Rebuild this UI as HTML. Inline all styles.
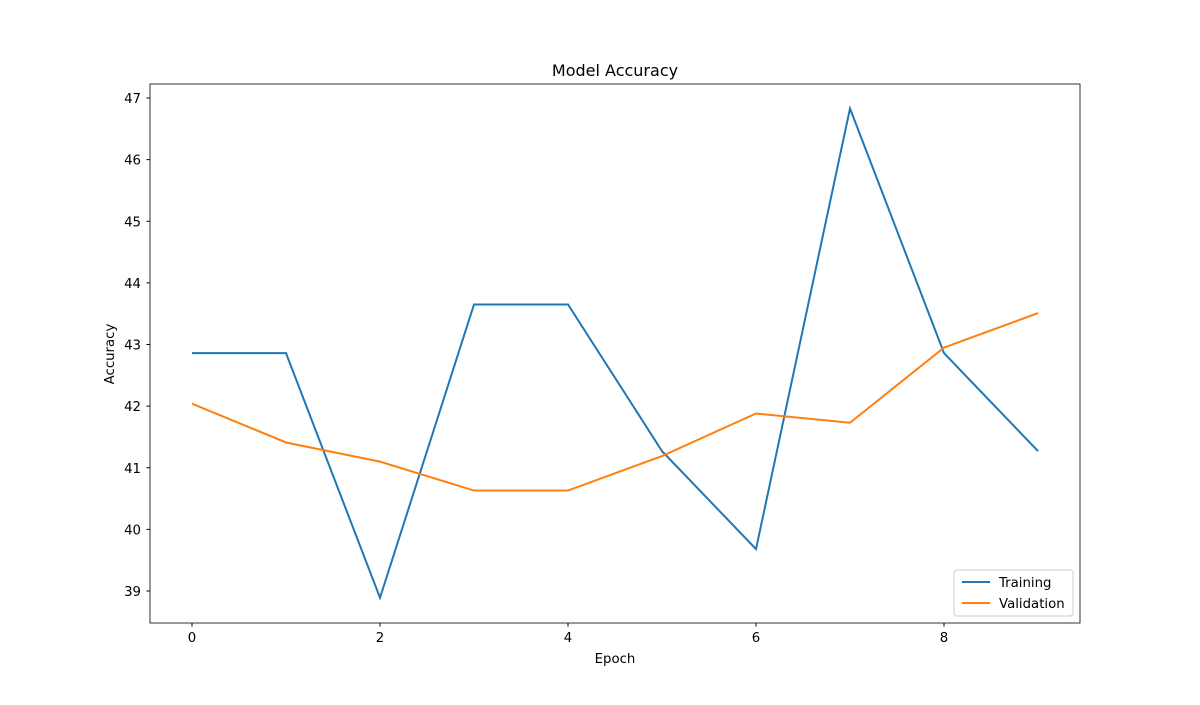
<!DOCTYPE html>
<html><head><meta charset="utf-8"><style>
body{margin:0;background:#fff;}
svg text{font-family:"DejaVu Sans","Liberation Sans",sans-serif;fill:#000;}
</style></head><body>
<svg id="chart" width="1200" height="700" xmlns="http://www.w3.org/2000/svg">
<rect width="1200" height="700" fill="#fff"/>
<text x="615" y="76" font-size="16" text-anchor="middle">Model Accuracy</text>
<g id="xticks"></g><g id="yticks"></g>
<g id="lines"></g>
<rect x="150" y="84" width="930" height="539" fill="none" stroke="#000" stroke-width="0.8"/>
<text x="615" y="663" font-size="13.3" text-anchor="middle">Epoch</text>
<text transform="translate(114,354) rotate(-90)" font-size="13.3" text-anchor="middle">Accuracy</text>
<g>
<rect x="954" y="570" width="119" height="46" rx="3" fill="#fff" fill-opacity="0.8" stroke="#ccc"/>
<line x1="962" y1="582" x2="990" y2="582" stroke="#1f77b4" stroke-width="2"/>
<text x="999" y="587" font-size="13.3">Training</text>
<line x1="962" y1="603" x2="990" y2="603" stroke="#ff7f0e" stroke-width="2"/>
<text x="999" y="608" font-size="13.3">Validation</text>
</g>
</svg>
<script>
const epochs=[0,1,2,3,4,5,6,7,8,9];
const training=[42.86,42.86,38.89,43.65,43.65,41.27,39.68,46.83,42.86,41.27];
const validation=[42.04,41.41,41.10,40.63,40.63,41.19,41.88,41.73,42.95,43.51];
const xTicks=[0,2,4,6,8];
const yTicks=[39,40,41,42,43,44,45,46,47];
const NS="http://www.w3.org/2000/svg";
function xs(v){return 192+v*94;}
function ys(v){return 591-(v-39)*61.625;}
const xg=document.getElementById('xticks'),yg=document.getElementById('yticks'),lg=document.getElementById('lines');
xTicks.forEach(t=>{
 const l=document.createElementNS(NS,'line');
 l.setAttribute('x1',xs(t));l.setAttribute('x2',xs(t));l.setAttribute('y1',623);l.setAttribute('y2',626.5);l.setAttribute('stroke','#000');
 
 
 xg.appendChild(l);
 const tx=document.createElementNS(NS,'text');
 tx.setAttribute('x',xs(t));tx.setAttribute('y',642);tx.setAttribute('font-size','13.3');tx.setAttribute('text-anchor','middle');tx.textContent=t;
 
 
 xg.appendChild(tx);
});
yTicks.forEach(t=>{
 const l=document.createElementNS(NS,'line');
 l.setAttribute('x1',146.5);l.setAttribute('x2',150);l.setAttribute('y1',ys(t));l.setAttribute('y2',ys(t));l.setAttribute('stroke','#000');
 
 
 yg.appendChild(l);
 const tx=document.createElementNS(NS,'text');
 tx.setAttribute('x',141);tx.setAttribute('y',ys(t)+5);tx.setAttribute('font-size','13.3');tx.setAttribute('text-anchor','end');tx.textContent=t;
 
 
 yg.appendChild(tx);
});
function drawLine(vals,color,name){
 const p=document.createElementNS(NS,'polyline');
 p.setAttribute('points',vals.map((v,i)=>xs(epochs[i])+','+ys(v)).join(' '));
 p.setAttribute('fill','none');p.setAttribute('stroke',color);p.setAttribute('stroke-width','2');
 
 
 lg.appendChild(p);
}
drawLine(training,'#1f77b4','training-line');
drawLine(validation,'#ff7f0e','validation-line');
</script>
</body></html>
